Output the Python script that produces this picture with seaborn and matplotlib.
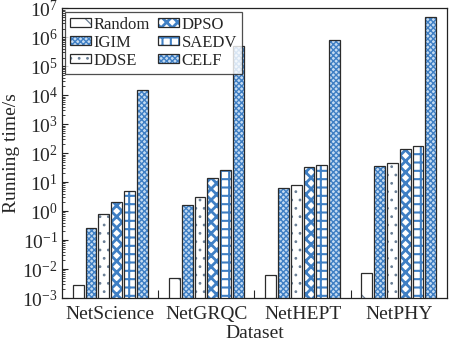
import matplotlib
matplotlib.use("Agg")
import matplotlib.pyplot as plt
import matplotlib.ticker as mticker
import matplotlib.colors as mcolors
import seaborn as sns
import pandas as pd

datasets = ["NetScience", "NetGRQC", "NetHEPT", "NetPHY"]
methods = ["Random", "IGIM", "DDSE", "DPSO", "SAEDV", "CELF"]

random_t = [0.0028, 0.0051, 0.0062, 0.0071]
igim_t = [0.26, 1.66, 6.2, 35]
ddse_t = [0.81, 3.0, 8.1, 46]
dpso_t = [2.15, 14, 34, 140]
saedv_t = [5.1, 27, 39, 171]
celf_t = [15000, 490000, 800000, 5.0e6]

series = [random_t, igim_t, ddse_t, dpso_t, saedv_t, celf_t]
rows = []
for m, vals in zip(methods, series):
    for d, v in zip(datasets, vals):
        rows.append({"Dataset": d, "Method": m, "Time": v})
df = pd.DataFrame(rows)

sns.set_style("white")
plt.rcParams["font.family"] = ["Liberation Serif", "DejaVu Serif"]
plt.rcParams["mathtext.fontset"] = "stix"

blue = "#3f7fc4"
pale = "#c4dbf2"
edge = "#2b2b2b"

# per-method look: (facecolor, hatch, hatch colour, hatch linewidth)
styles = {
    "Random": ("white", "\\", "#6a7f95", 0.9),
    "IGIM": (pale, "xxxxxx", blue, 1.0),
    "DDSE": ("white", "..", "#6a7f95", 0.8),
    "DPSO": ("white", "xxx", blue, 2.0),
    "SAEDV": ("white", "++", blue, 1.5),
    "CELF": (pale, "xxxxxx", blue, 1.0),
}


def style_patch(p, m):
    fc, hatch, hc, hlw = styles[m]
    p.set_facecolor(fc)
    p.set_hatch(hatch)
    p.set_edgecolor(edge)
    p._hatch_color = mcolors.to_rgba(hc)
    if hasattr(p, "set_hatch_linewidth"):
        p.set_hatch_linewidth(hlw)
    else:
        p._hatch_linewidth = hlw


fig = plt.figure(figsize=(4.5, 3.45), dpi=100)
ax = fig.add_axes([0.138, 0.136, 0.855, 0.840])

sns.barplot(data=df, x="Dataset", y="Time", hue="Method", order=datasets,
            hue_order=methods, width=0.8, gap=0.15, legend=False, ax=ax,
            edgecolor=edge, linewidth=0.9)

ax.set_yscale("log")
ax.set_ylim(1e-3, 1e7)
ax.set_xlim(-0.5, 3.5)

for cont, m in zip(ax.containers, methods):
    for p in cont:
        style_patch(p, m)

ax.yaxis.set_major_locator(mticker.LogLocator(base=10, numticks=20))
ax.yaxis.set_minor_locator(mticker.LogLocator(base=10, subs=range(2, 10), numticks=20))
ax.yaxis.set_minor_formatter(mticker.NullFormatter())
ax.xaxis.set_minor_locator(mticker.FixedLocator([0.5, 1.5, 2.5]))

ax.tick_params(axis="y", which="major", direction="in", length=4, width=0.8,
               labelsize=14, left=True, pad=3)
ax.tick_params(axis="y", which="minor", direction="in", length=2, width=0.6, left=True)
ax.tick_params(axis="x", which="major", length=0, labelsize=14, pad=6)
ax.tick_params(axis="x", which="minor", direction="in", length=6, width=0.8, bottom=True)

for s in ax.spines.values():
    s.set_color("#222222")
    s.set_linewidth(0.9)

ax.set_xlabel("Dataset", fontsize=14, labelpad=1)
ax.set_ylabel("Running time/s", fontsize=14, labelpad=2)

handles = [c[0] for c in ax.containers]
leg = ax.legend(handles, methods, ncol=2, loc="upper left", fontsize=12,
                frameon=True, fancybox=False, edgecolor="#222222",
                handlelength=1.25, handleheight=0.45, handletextpad=0.15,
                columnspacing=0.5, labelspacing=0.12, borderpad=0.3,
                borderaxespad=0.2)
leg.get_frame().set_linewidth(0.9)
for h, m in zip(leg.legend_handles, methods):
    style_patch(h, m)

fig.savefig("out.png", dpi=100)
